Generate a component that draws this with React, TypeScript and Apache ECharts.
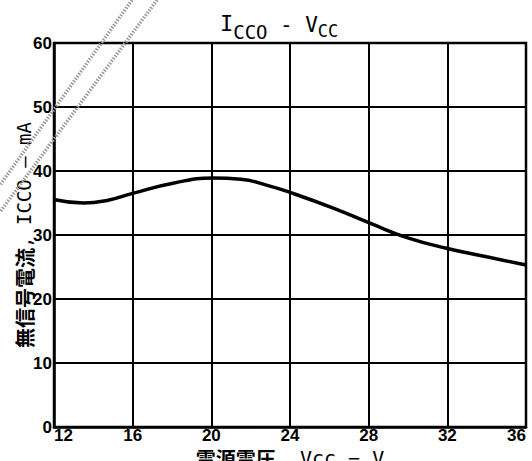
import React, { useEffect, useRef } from "react";
import * as echarts from "echarts";

const vcc = [12.05, 13.5, 14.7, 16.0, 18.05, 20.1, 21.5, 22.8, 24.15, 26.2, 28.1, 29.95, 32.0, 34.0, 36.0];
const icco = [35.5, 35.0, 35.4, 36.5, 38.1, 38.9, 38.7, 37.8, 36.5, 34.2, 31.8, 29.6, 27.9, 26.6, 25.3];
const xTicks = [12, 16, 20, 24, 28, 32, 36];
const yTicks = [0, 10, 20, 30, 40, 50, 60];

const MONO = "DejaVu Sans Mono";
const CJK = "Noto Sans CJK JP";
const LABEL = "'Liberation Sans', Arial, sans-serif";

export default function App() {
  const ref = useRef<HTMLDivElement>(null);
  useEffect(() => {
    document.body.style.margin = "0";
    const chart = echarts.init(ref.current!, null, { renderer: "svg" });
    const data = vcc.map((v, i) => [v, icco[i]]);
    const t = (text: string, x: number, y: number, size: number) => ({
      type: "text",
      x,
      y,
      silent: true,
      style: { text, fontFamily: MONO, fontSize: size, fill: "#000", align: "left", verticalAlign: "middle" },
    });
    chart.setOption({
      animation: false,
      backgroundColor: "#ffffff",
      graphic: [
        t("I", 220, 23.5, 22),
        t("CCO", 233.2, 32, 19),
        t(" - ", 267.4, 24.5, 21),
        t("V", 305.2, 24.5, 21),
        t("CC", 317.8, 31, 17),
        {
          type: "line",
          silent: true,
          z: 10,
          shape: { x1: 132, y1: 0, x2: 0, y2: 185 },
          style: { stroke: "#999999", lineWidth: 3.5, lineDash: [1.5, 1.5] },
        },
        {
          type: "line",
          silent: true,
          z: 10,
          shape: { x1: 157, y1: 0, x2: 0, y2: 212 },
          style: { stroke: "#999999", lineWidth: 3.5, lineDash: [1.5, 1.5] },
        },
      ],
      grid: {
        left: 54,
        right: 6,
        top: 43,
        bottom: 34,
        show: true,
        borderColor: "#000",
        borderWidth: 2.5,
        backgroundColor: "transparent",
        outerBoundsMode: "none",
        containLabel: false,
      },
      xAxis: {
        type: "value",
        min: 12,
        max: 36,
        interval: 4,
        name: "{c|電源電圧}{m|, Vcc − V}",
        nameLocation: "middle",
        nameGap: 21,
        nameMoveOverlap: false,
        nameTextStyle: {
          rich: {
            c: { fontFamily: CJK, fontSize: 20, fontWeight: "bold", color: "#000", lineHeight: 20 },
            m: { fontFamily: MONO, fontSize: 20, color: "#000", lineHeight: 20 },
          },
        },
        axisLine: { show: true, lineStyle: { color: "#000", width: 2.5 } },
        axisTick: { show: false },
        splitLine: { show: true, lineStyle: { color: "#000", width: 2 } },
        axisLabel: {
          margin: 1,
          fontFamily: LABEL,
          fontWeight: "bold",
          fontSize: 17,
          lineHeight: 15,
          color: "#000",
          alignMinLabel: "left",
          alignMaxLabel: "right",
          formatter: (v: number) => (xTicks.includes(v) ? String(v) : ""),
        },
      },
      yAxis: {
        type: "value",
        min: 0,
        max: 60,
        interval: 10,
        name: "{c|無信号電流}{m|, ICCO — mA}",
        nameLocation: "middle",
        nameRotate: 90,
        nameGap: 20,
        nameMoveOverlap: false,
        nameTextStyle: {
          rich: {
            c: { fontFamily: CJK, fontSize: 20, fontWeight: "bold", color: "#000" },
            m: { fontFamily: MONO, fontSize: 19, color: "#000" },
          },
        },
        axisLine: { show: true, lineStyle: { color: "#000", width: 2.5 } },
        axisTick: { show: false },
        splitLine: { show: true, lineStyle: { color: "#000", width: 2 } },
        axisLabel: {
          margin: 2,
          fontFamily: LABEL,
          fontWeight: "bold",
          fontSize: 17,
          color: "#000",
          formatter: (v: number) => (yTicks.includes(v) ? String(v) : ""),
        },
      },
      series: [
        {
          type: "line",
          data,
          smooth: true,
          symbol: "none",
          lineStyle: { color: "#000", width: 3.5 },
        },
      ],
    });
    return () => chart.dispose();
  }, []);
  return <div ref={ref} style={{ width: 532, height: 461 }} />;
}
